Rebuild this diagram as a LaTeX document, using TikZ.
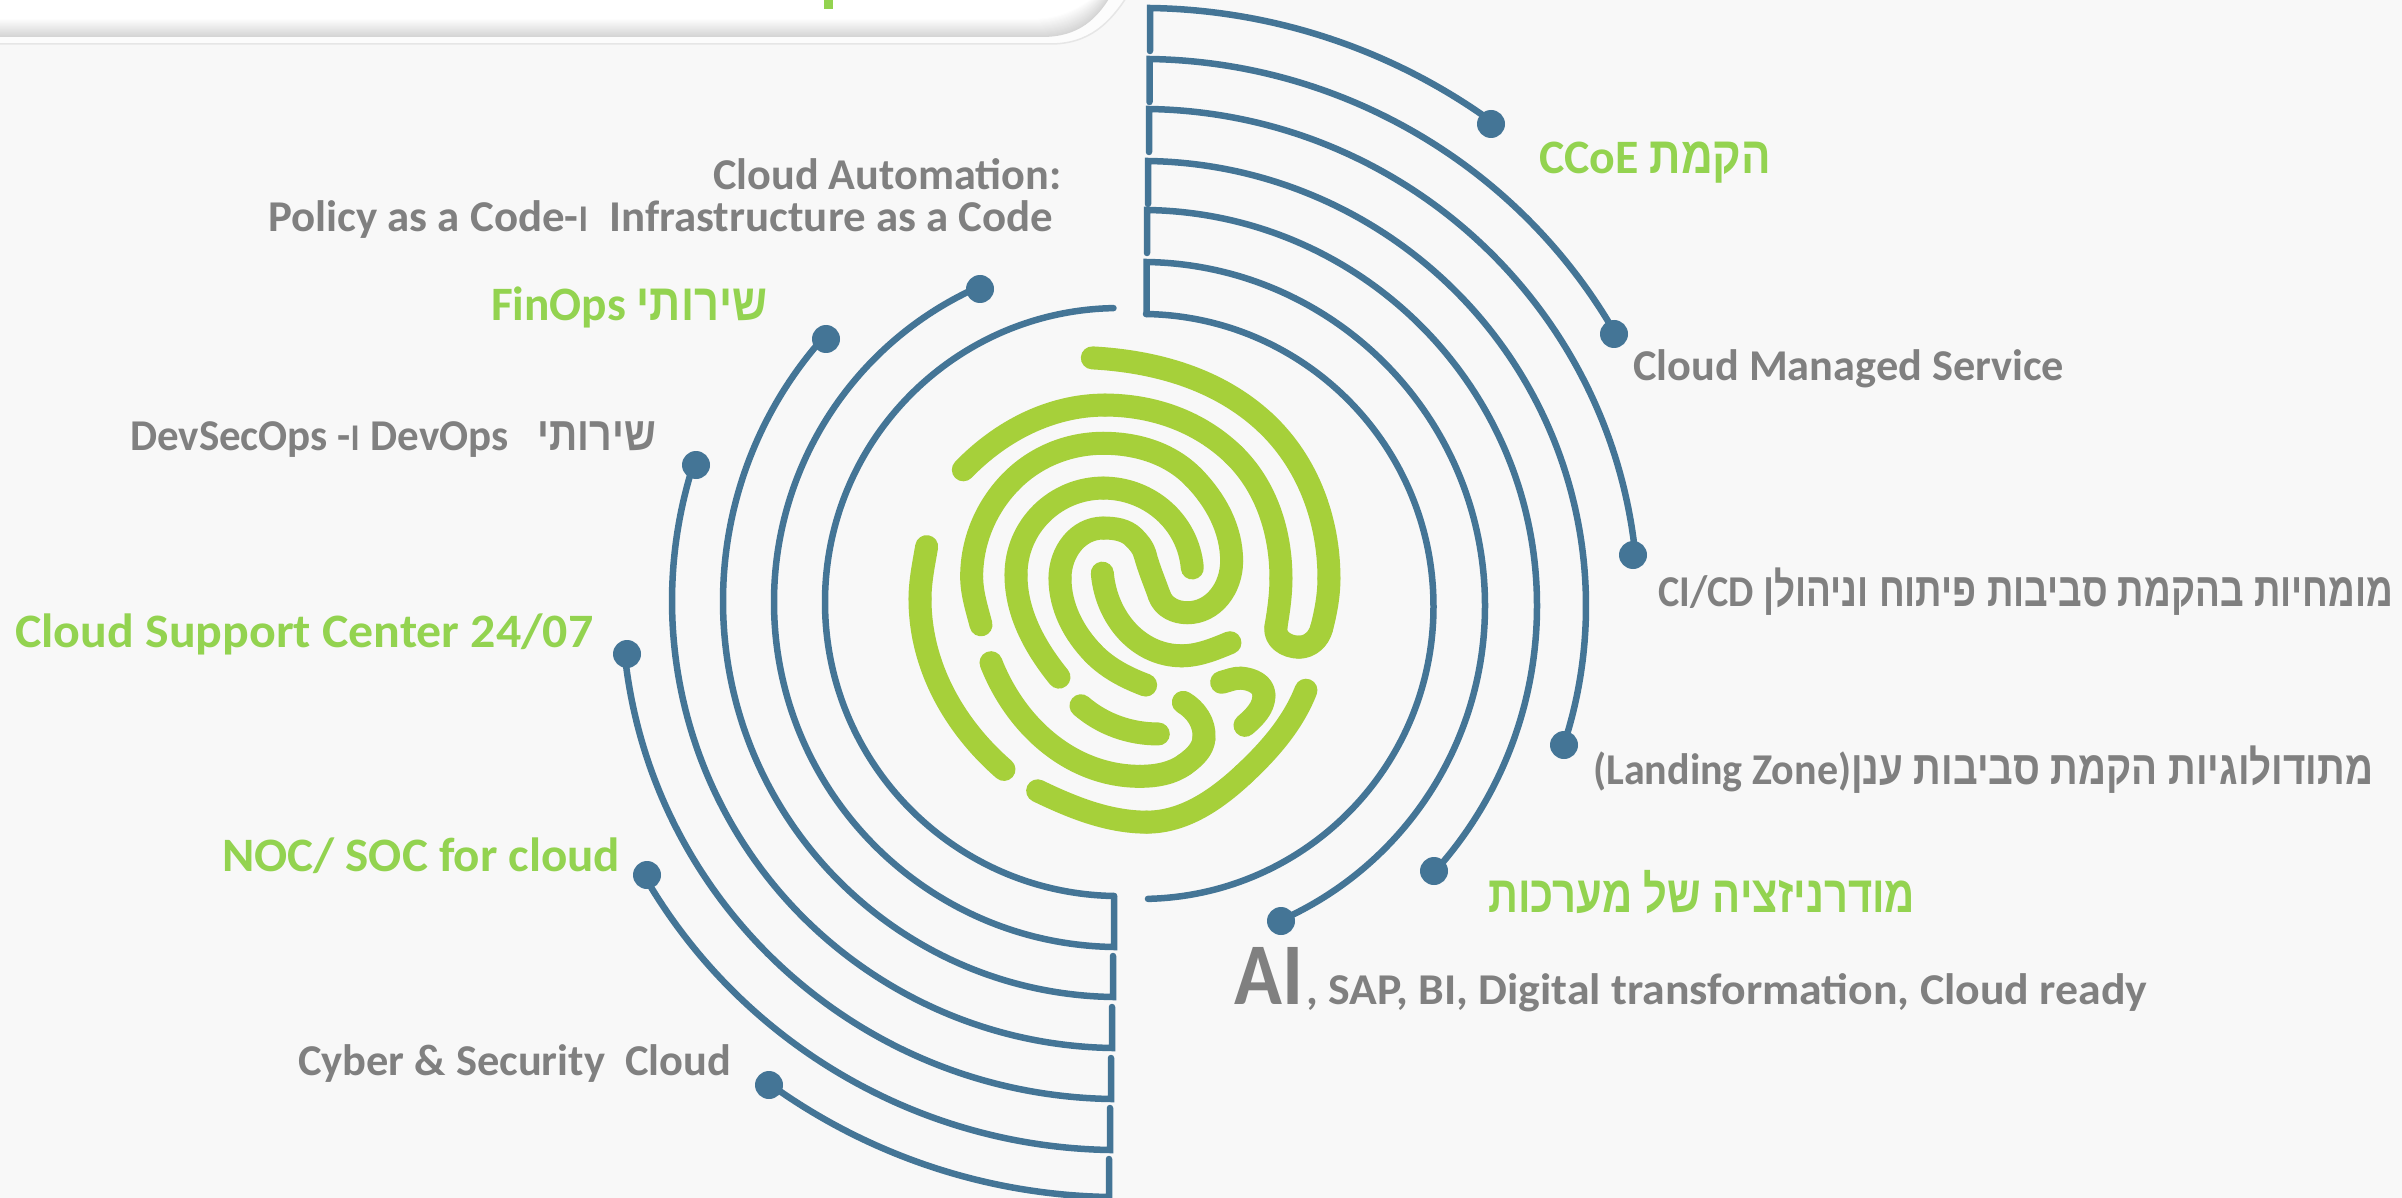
\documentclass[tikz,border=0pt]{standalone}
\usepackage{graphicx}
\usepackage{fontspec}
\setmainfont{Carlito}
\newfontfamily\hebf[Script=Hebrew,Scale=1.08,FakeStretch=0.85]{Liberation Sans}
\TeXXeTstate=1
\definecolor{bgc}{HTML}{F8F8F8}
\definecolor{ringc}{HTML}{447596}
\definecolor{printc}{HTML}{A6D03A}
\definecolor{leadc}{HTML}{93D350}
\definecolor{textc}{HTML}{808080}
\definecolor{hdshade}{HTML}{D5D5D5}
\definecolor{hdline}{HTML}{E6E6E6}
\newcommand\he[1]{{\hebf\bfseries\beginR #1\endR}}
\newcommand\vav{\scalebox{0.85}{\he{ו}}}
\newcommand\fitw[2]{\resizebox{#1pt}{\height}{#2}}
\newcommand\graysize{\fontsize{44}{50}\selectfont\bfseries}
\newcommand\greensize{\fontsize{48}{54}\selectfont\bfseries}
\newcommand\ringright[6]{%
  \pgfmathsetmacro\sa{atan2(#3-606,#1-1141)}%
  \pgfmathsetmacro\ea{atan2(#6-606,#5-1141)}%
  \draw[ring] (#1,#2) -- (#1,#3) arc[start angle=\sa,end angle=\ea,radius=#4];%
}
\newcommand\ringleft[6]{%
  \pgfmathsetmacro\sa{atan2(#3-602,#1-1119)}%
  \pgfmathsetmacro\ea{mod(atan2(#6-602,#5-1119)+360,360)}%
  \draw[ring] (#1,#2) -- (#1,#3) arc[start angle=\sa,end angle=\ea,radius=#4];%
}
% a ridge of the print: first point and heading, then point/point/heading triples
\newcommand\ridgecurve[4]{%
  \foreach \qx/\qy/\qa [remember=\qx as \px (initially #1),remember=\qy as \py (initially #2),remember=\qa as \pa (initially #3)] in {#4}{%
    \pgfmathsetmacro\dl{abs(\qa-\pa)+0.5}%
    \pgfmathsetmacro\rt{4/3*tan(\dl/4)/(2*sin(\dl/2))}%
    \pgfmathsetmacro\ctl{\rt*veclen(\qx-\px,\qy-\py)}%
    \draw[ridge] (\px,\py) .. controls ({\px+\ctl*cos(\pa)},{\py+\ctl*sin(\pa)}) and ({\qx-\ctl*cos(\qa)},{\qy-\ctl*sin(\qa)}) .. (\qx,\qy);%
  }%
}
\tikzset{
  ring/.style={draw=ringc,line width=6.5pt,line cap=round,line join=miter},
  ringdot/.style={circle,fill=ringc,minimum size=28pt,inner sep=0pt},
  ridge/.style={draw=printc,line width=23pt,line cap=round,line join=round},
  graylabel/.style={anchor=base west,inner sep=0pt,text=textc,font=\graysize},
  greenlabel/.style={anchor=base west,inner sep=0pt,text=leadc,font=\greensize},
}
\begin{document}
\begin{tikzpicture}[x=1pt,y=1pt,yscale=-1]
\useasboundingbox (0,0) rectangle (2402,1198);
\fill[bgc] (0,0) rectangle (2402,1198);
% header panel
\begin{scope}
\clip (0,0) rectangle (2402,1198);
\filldraw[fill=white!60!bgc,draw=hdline,line width=1.5pt] (-5,-10) -- (-5,44) -- (1050,44) .. controls (1088,44) and (1110,25) .. (1131,-10) -- cycle;
\foreach \k in {0,1,...,18}{
  \pgfmathsetmacro\pc{\k*100/18}
  \pgfmathsetmacro\dx{\k*0.6}
  \fill[white!\pc!hdshade] (-5,-10) -- (-5,37-\k) -- (1042-\dx,37-\k) .. controls (1078-\dx,37-\k) and (1098-\dx,20-\k) .. (1114-\dx,-10) -- cycle;
}
\fill[leadc] (824,0) rectangle (833,9);
\end{scope}
% dots
\node[ringdot] (d1) at (1491,124) {};
\node[ringdot] (d2) at (1614,334) {};
\node[ringdot] (d3) at (1633,555) {};
\node[ringdot] (d4) at (1564,745) {};
\node[ringdot] (d5) at (1434,871) {};
\node[ringdot] (d6) at (1281,921) {};
\node[ringdot] (e1) at (769,1085) {};
\node[ringdot] (e2) at (647,875) {};
\node[ringdot] (e3) at (627,654) {};
\node[ringdot] (e4) at (696,465) {};
\node[ringdot] (e5) at (826,339) {};
\node[ringdot] (e6) at (980,289) {};
% right rings
\ringright{1150}{51}{8}{598}{1491}{124}
\ringright{1149.5}{102}{59}{547}{1614}{334}
\ringright{1149}{152}{109}{497}{1633}{555}
\ringright{1148}{204}{161}{445}{1564}{745}
\ringright{1147}{253}{210}{396}{1434}{871}
\ringright{1146.5}{314}{262}{344}{1281}{921}
\ringright{1146}{314}{314}{292.5}{1148}{899}
% left rings
\ringleft{1114}{896}{896}{294}{1113.5}{309}
\ringleft{1114}{896}{947}{345}{980}{289}
\ringleft{1113}{956}{997}{396}{826}{339}
\ringleft{1112}{1007}{1048}{447}{696}{465}
\ringleft{1111}{1058}{1099}{497}{627}{654}
\ringleft{1110}{1108}{1150}{548}{647}{875}
\ringleft{1109}{1159}{1197}{596}{769}{1085}
% fingerprint
\begin{scope}[shift={(880,320)},xscale=0.3333,yscale=0.3444]
\ridgecurve{637}{110}{3}{1155/297/42,1347/750/90,1325/895/105,1257/950/180,1188/890/280,1203/750/270,1060/390/223,675/247/180,250/435/135}
\ridgecurve{303}{885}{-105}{275/745/-90,391/471/-45,670/358/0,942/458/45,1055/700/90,922/850/180,838/800/250,795/680/255,762/632/225,670/604/180,540/750/90,640/968/45,797/1060/20}
\ridgecurve{537}{1037}{-130}{408/740/-90,670/488/0,937/720/85}
\ridgecurve{667}{735}{85}{905/975/0,1050/937/-22}
\ridgecurve{140}{658}{100}{120/810/90,372/1305/40}
\ridgecurve{333}{995}{68}{780/1325/0,915/1290/-35,972/1215/-85,910/1110/-150}
\ridgecurve{603}{1120}{40}{835/1202/0}
\ridgecurve{1025}{1052}{-13}{1085/1040/5,1152/1090/90,1095/1177/140}
\ridgecurve{473}{1367}{25}{800/1458/0,1090/1320/-42,1278/1075/-68}
\end{scope}
% labels left
\node[graylabel] (t1) at (713,190) {\fitw{348}{Cloud Automation:}};
\node[graylabel] (t2) at (268,232) {\fitw{785}{Policy as a Code-\vav\ \ Infrastructure as a Code}};
\node[greenlabel] (t3) at (491,320) {\fitw{276}{FinOps \he{שירותי}}};
\node[graylabel] (t4) at (130,450) {\fitw{526}{DevSecOps -\vav{} DevOps\ \ \ \he{שירותי}}};
\node[greenlabel] (t5) at (15,647) {\fitw{578}{Cloud Support Center 24/07}};
\node[greenlabel] (t6) at (222,871) {\fitw{398}{NOC/ SOC for cloud}};
\node[graylabel] (t7) at (298,1075) {\fitw{433}{Cyber \& Security\ \ Cloud}};
% labels right
\node[greenlabel] (t8) at (1539,174) {\fitw{232}{CCoE \he{הקמת}}};
\node[graylabel] (t9) at (1633,380) {\fitw{431}{Cloud Managed Service}};
\node[graylabel] (t10) at (1658,606) {\fitw{735}{CI/CD \he{מומחיות בהקמת סביבות פיתוח וניהולן}}};
\node[graylabel] (t11) at (1593,784) {\fitw{780}{(Landing Zone)\he{מתודולוגיות הקמת סביבות ענן}}};
\node[greenlabel] (t12) at (1488,912) {\fitw{427}{\he{מודרניזציה של מערכות}}};
\node[anchor=base west,inner sep=0pt,text=textc,font=\fontsize{88}{92}\selectfont\bfseries] (t13) at (1234,1004) {\fitw{69}{AI}};
\node[graylabel] (t14) at (1306,1004) {\fitw{841}{, SAP, BI, Digital transformation, Cloud ready}};
\end{tikzpicture}
\end{document}
